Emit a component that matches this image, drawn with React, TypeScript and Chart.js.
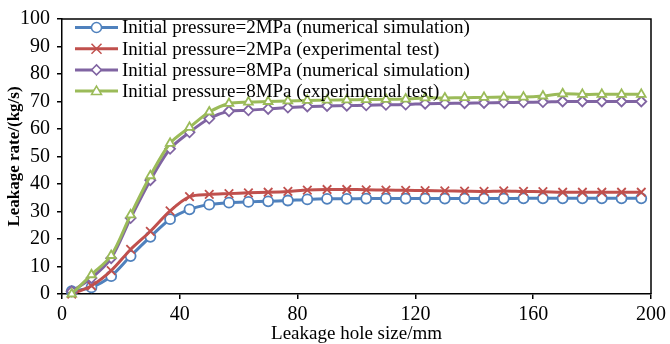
import React, { useEffect, useRef } from 'react';
import { Chart, registerables } from 'chart.js';

Chart.register(...registerables);

const holeSizes = [
  3.3, 10, 16.7, 23.3, 30, 36.7, 43.3, 50, 56.7, 63.3, 70, 76.7, 83.3, 90, 96.7,
  103.3, 110, 116.7, 123.3, 130, 136.7, 143.3, 150, 156.7, 163.3, 170, 176.7, 183.3, 190, 196.7,
];
const p2Simulation = [
  1, 2.4, 6.5, 13.8, 20.8, 27.2, 30.8, 32.5, 33.2, 33.5, 33.7, 34, 34.4, 34.6, 34.6,
  34.7, 34.7, 34.7, 34.7, 34.7, 34.7, 34.7, 34.7, 34.8, 34.8, 34.8, 34.8, 34.8, 34.8, 34.8,
];
const p2Experiment = [
  0, 3, 8.5, 16.2, 22.8, 30.2, 35.4, 36.2, 36.5, 36.8, 37, 37.3, 37.8, 38, 38,
  37.9, 37.8, 37.7, 37.6, 37.5, 37.4, 37.3, 37.5, 37.3, 37.2, 37, 37, 37, 37, 37,
];
const p8Simulation = [
  1, 5.8, 13, 27.6, 41.4, 52.8, 58.8, 63.8, 66.5, 66.8, 67.3, 67.8, 68.2, 68.4, 68.5,
  68.6, 68.8, 68.9, 69.2, 69.3, 69.4, 69.5, 69.6, 69.7, 69.8, 70, 70, 70, 70, 70,
];
const p8Experiment = [
  0, 7, 14, 28.8, 43, 54.8, 60.6, 66.2, 69.3, 69.8, 70, 70.2, 70.4, 70.5, 70.6,
  70.7, 70.8, 70.9, 71.3, 71.3, 71.4, 71.5, 71.6, 71.6, 72, 72.8, 72.6, 72.6, 72.6, 72.6,
];
const seriesLabels = [
  'Initial pressure=2MPa (numerical simulation)',
  'Initial pressure=2MPa (experimental test)',
  'Initial pressure=8MPa (numerical simulation)',
  'Initial pressure=8MPa (experimental test)',
];
const xTickValues = [0, 40, 80, 120, 160, 200];
const yTickValues = [0, 10, 20, 30, 40, 50, 60, 70, 80, 90, 100];
const xTitle = 'Leakage hole size/mm';
const yTitle = 'Leakage rate/(kg/s)';

const COLORS = ['#4F81BD', '#C0504D', '#8064A2', '#9BBB59'];
const STYLES = ['circle', 'cross', 'diamond', 'triangle'];
const FONT = '"Liberation Serif", "Times New Roman", serif';

function drawMarker(ctx: CanvasRenderingContext2D, style: string, x: number, y: number, r: number, color: string) {
  ctx.save();
  ctx.strokeStyle = color;
  ctx.fillStyle = '#fff';
  ctx.lineWidth = 1.5;
  ctx.beginPath();
  if (style === 'circle') {
    ctx.arc(x, y, r, 0, Math.PI * 2);
    ctx.fill();
    ctx.stroke();
  } else if (style === 'cross') {
    ctx.moveTo(x - r, y - r);
    ctx.lineTo(x + r, y + r);
    ctx.moveTo(x + r, y - r);
    ctx.lineTo(x - r, y + r);
    ctx.stroke();
  } else if (style === 'diamond') {
    ctx.moveTo(x, y - r);
    ctx.lineTo(x + r, y);
    ctx.lineTo(x, y + r);
    ctx.lineTo(x - r, y);
    ctx.closePath();
    ctx.fill();
    ctx.stroke();
  } else {
    ctx.moveTo(x, y - r);
    ctx.lineTo(x + r, y + r * 0.7);
    ctx.lineTo(x - r, y + r * 0.7);
    ctx.closePath();
    ctx.fill();
    ctx.stroke();
  }
  ctx.restore();
}

const insideLegend = {
  id: 'insideLegend',
  afterDatasetsDraw(chart: any) {
    const ctx = chart.ctx as CanvasRenderingContext2D;
    const area = chart.chartArea;
    const x0 = area.left + 13;
    const x1 = area.left + 56;
    const rowH = 21.2;
    ctx.save();
    seriesLabels.forEach((label, i) => {
      const y = area.top + 8.5 + i * rowH;
      ctx.strokeStyle = COLORS[i];
      ctx.lineWidth = 3;
      ctx.beginPath();
      ctx.moveTo(x0, y);
      ctx.lineTo(x1, y);
      ctx.stroke();
      drawMarker(ctx, STYLES[i], (x0 + x1) / 2, y, 5, COLORS[i]);
      ctx.fillStyle = '#000';
      ctx.font = `19px ${FONT}`;
      ctx.textBaseline = 'middle';
      ctx.textAlign = 'left';
      ctx.fillText(label, x1 + 4, y + 1);
    });
    ctx.restore();
  },
  afterDraw(chart: any) {
    const ctx = chart.ctx as CanvasRenderingContext2D;
    const a = chart.chartArea;
    ctx.save();
    ctx.strokeStyle = '#000';
    ctx.lineWidth = 1.5;
    ctx.beginPath();
    ctx.moveTo(a.left, a.top);
    ctx.lineTo(a.right, a.top);
    ctx.lineTo(a.right, a.bottom);
    ctx.stroke();
    ctx.restore();
  },
};

export default function App() {
  const ref = useRef<HTMLCanvasElement | null>(null);
  useEffect(() => {
    if (!ref.current) return;
    const series = [p2Simulation, p2Experiment, p8Simulation, p8Experiment];
    const pointStyles = ['circle', 'crossRot', 'rectRot', 'triangle'];
    const chart = new Chart(ref.current, {
      type: 'line',
      data: {
        datasets: series.map((vals, i) => ({
          label: seriesLabels[i],
          data: holeSizes.map((x, j) => ({ x, y: vals[j] })),
          borderColor: COLORS[i],
          borderWidth: 3,
          pointStyle: pointStyles[i] as any,
          pointRadius: i === 1 ? 6 : 5,
          pointBorderWidth: 1.8,
          pointBorderColor: COLORS[i],
          pointBackgroundColor: '#fff',
          tension: 0.3,
          fill: false,
          clip: false as any,
          order: 4 - i,
        })),
      },
      options: {
        animation: false,
        responsive: true,
        maintainAspectRatio: false,
        layout: { padding: { top: 15, right: 15, left: 0, bottom: 0 } },
        plugins: { legend: { display: false }, tooltip: { enabled: false } },
        scales: {
          x: {
            type: 'linear',
            min: 0,
            max: 200,
            afterBuildTicks: (s: any) => {
              s.ticks = xTickValues.map((v) => ({ value: v }));
            },
            afterFit: (s: any) => {
              s.height = 50;
            },
            ticks: { color: '#000', font: { family: FONT, size: 20 }, padding: 4, maxRotation: 0 },
            grid: { drawOnChartArea: false, drawTicks: true, tickLength: 5, color: '#000', lineWidth: 1.5 },
            border: { display: true, color: '#000', width: 1.5 },
            title: {
              display: true,
              text: xTitle,
              color: '#000',
              font: { family: FONT, size: 19 },
              padding: { top: 0, bottom: -1.5 },
            },
          },
          y: {
            type: 'linear',
            min: 0,
            max: 100,
            afterBuildTicks: (s: any) => {
              s.ticks = yTickValues.map((v) => ({ value: v }));
            },
            afterFit: (s: any) => {
              s.width = 62;
            },
            ticks: { color: '#000', font: { family: FONT, size: 20 }, padding: 7 },
            grid: { drawOnChartArea: false, drawTicks: true, tickLength: 5, color: '#000', lineWidth: 1.5 },
            border: { display: true, color: '#000', width: 1.5 },
            title: {
              display: true,
              text: yTitle,
              color: '#000',
              font: { family: FONT, size: 17, weight: 'bold' },
              padding: { top: 4.5, bottom: 0 },
            },
          },
        },
      },
      plugins: [insideLegend],
    });
    return () => chart.destroy();
  }, []);
  return (
    <div style={{ position: 'fixed', left: 0, top: 0, width: 670, height: 344, background: '#fff' }}>
      <canvas ref={ref} />
    </div>
  );
}
